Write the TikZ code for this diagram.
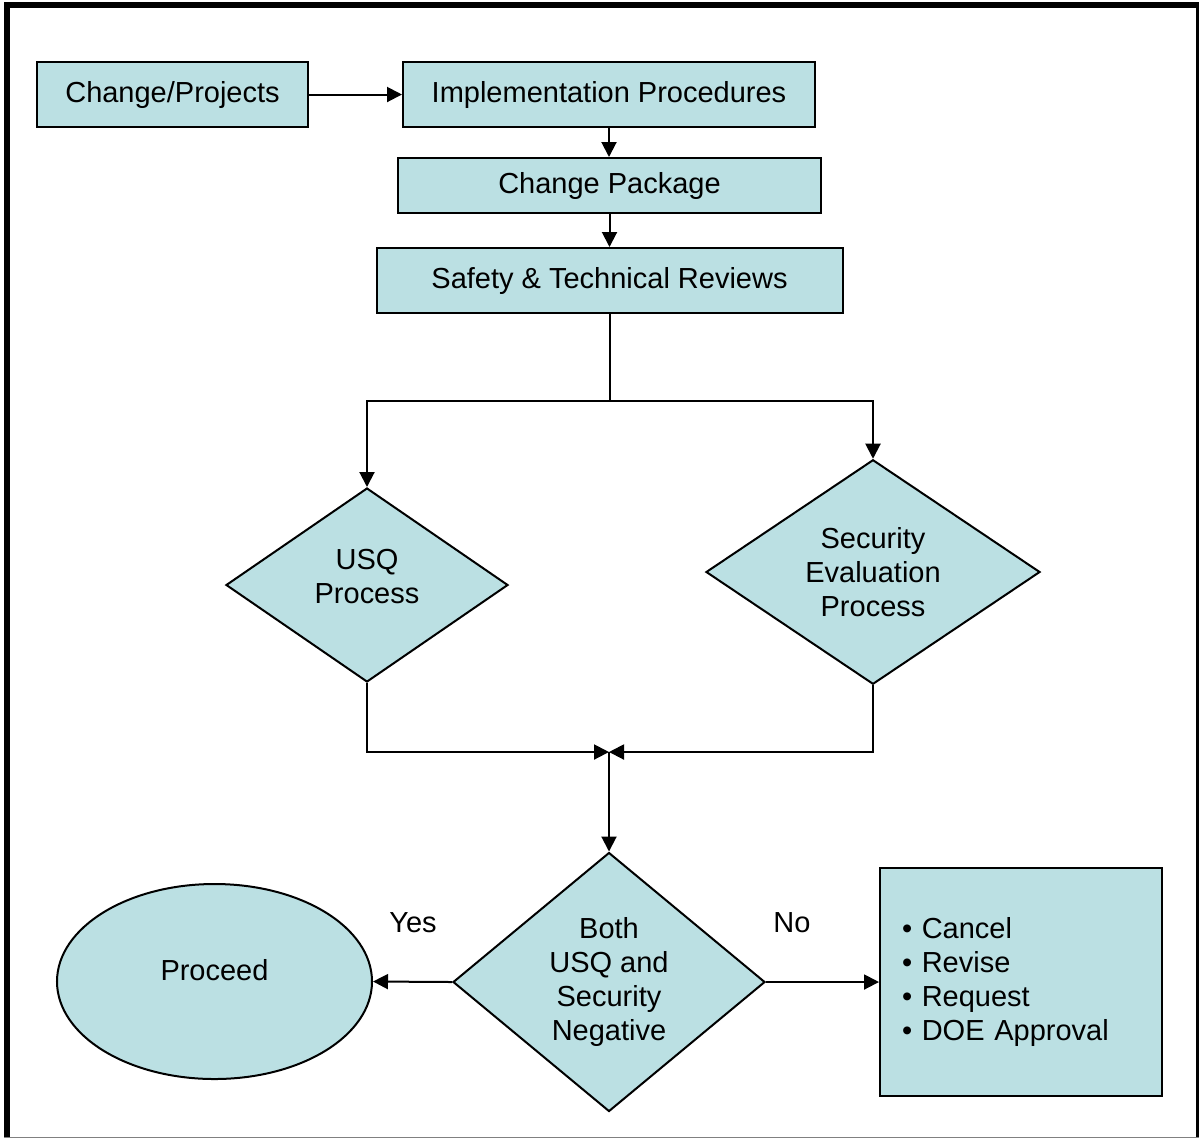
\documentclass[tikz,border=0pt]{standalone}
\usepackage{fontspec}
\setmainfont{Liberation Sans}
\usetikzlibrary{shapes.geometric,arrows.meta}
\definecolor{boxfill}{HTML}{BBE0E3}
\tikzset{
  procbox/.style={draw, fill=boxfill, line width=0.4mm, inner sep=0pt, align=center},
  decision/.style={procbox, diamond},
  flow/.style={line width=0.4mm, -{Triangle[length=3mm,width=3mm]}},
  plain/.style={line width=0.4mm},
}
\begin{document}
\begin{tikzpicture}[x=0.2mm, y=-0.2mm, font=\fontsize{16.5}{19.3}\selectfont]
      \useasboundingbox (0,0) rectangle (1201,1138);
      % frame
      \fill (4,2) rectangle (10,1137);
      \fill (4,2) rectangle (1199,8);
      \fill (1196,2) rectangle (1199,1137);
      \draw[gray] (4,1137) -- (1199,1137);
      % boxes
      \node[procbox, minimum width=54.2mm, minimum height=13mm] (chg) at (172.5,94.5) {Change/Projects};
      \node[procbox, minimum width=82.4mm, minimum height=13mm] (impl) at (609,94.5) {Implementation Procedures};
      \node[procbox, minimum width=84.6mm, minimum height=11mm] (pkg) at (609.5,185.5) {Change Package};
      \node[procbox, minimum width=93.2mm, minimum height=13mm] (review) at (609.5,280.5) {Safety \& Technical Reviews};
      \node[decision, minimum width=56.4mm, minimum height=38.8mm, text depth=3.6mm] (usq) at (367,585) {USQ\\Process};
      \node[decision, minimum width=66.8mm, minimum height=42.8mm] (secur) at (873,572) {Security\\Evaluation\\Process};
      \node[decision, minimum width=62.4mm, minimum height=51.8mm] (both) at (609,982) {Both\\USQ and\\Security\\Negative};
      \node[procbox, ellipse, minimum width=63mm, minimum height=39mm, text depth=4.8mm] (proceed) at (214.5,981.5) {Proceed};
      \node[procbox, align=left, text width=47.6mm, inner xsep=4.4mm, minimum height=45.6mm] (outcome) at (1021,982)
        {\textbullet\ Cancel\\\textbullet\ Revise\\\textbullet\ Request\\\textbullet\ DOE Approval};
      \node (yes) at (413,923) {Yes};
      \node (no) at (792,923) {No};
      \coordinate (split) at (609.5,401);
      \coordinate (merge) at (609,752);
      % connectors
      \draw[flow] (chg) -- (impl);
      \draw[flow] (impl.south) -- (impl.south |- pkg.north);
      \draw[flow] (pkg.south) -- (pkg.south |- review.north);
      \draw[plain] (review.south) -- (split);
      \draw[flow] (split) -| (usq.north);
      \draw[flow] (split) -| (secur.north);
      \draw[flow] (usq.south) |- (merge);
      \draw[flow] (secur.south) |- (merge);
      \draw[flow] (merge) -- (both.north);
      \draw[flow] (both.west) -- (proceed.east);
      \draw[flow] (both.east) -- (outcome.west);
\end{tikzpicture}
\end{document}
